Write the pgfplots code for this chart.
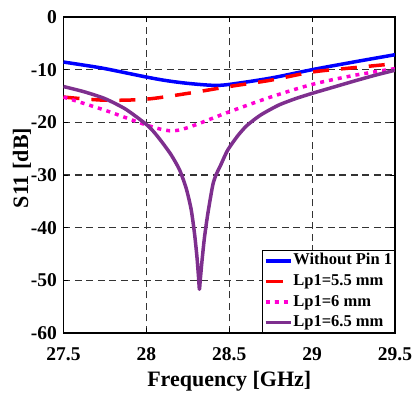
\documentclass[border=0pt]{standalone}
\usepackage{fontspec}
\setmainfont{Liberation Serif}
\usepackage{pgfplots}
\pgfplotsset{compat=1.18}
\definecolor{cblue}{RGB}{0,0,255}
\definecolor{cred}{RGB}{255,0,0}
\definecolor{cpink}{RGB}{255,0,210}
\definecolor{cpurple}{RGB}{126,47,142}
\begin{document}
\begin{tikzpicture}
\useasboundingbox (-63.5pt,-61pt) rectangle (352.5pt,333pt);
\begin{axis}[
  at={(0,0)}, anchor=south west,
  scale only axis, width=331.5pt, height=316pt,
  xmin=27.5, xmax=29.5, ymin=-60, ymax=0,
  xtick={27.5,28,28.5,29,29.5}, ytick={-60,-50,-40,-30,-20,-10,0},
  grid=major,
  major grid style={black!80, line width=1.1pt, dash pattern=on 7pt off 4.5pt},
  axis line style={line width=1.2pt},
  tick align=inside, major tick length=5pt,
  tick style={black, line width=1pt},
  /pgf/number format/assume math mode=true,
  ticklabel style={font=\fontsize{19.5}{21}\selectfont\bfseries},
  xticklabel style={anchor=base, yshift=-27.7pt},
  yticklabel style={anchor=east, inner sep=0pt, xshift=-6.5pt},
  xlabel={Frequency [GHz]}, ylabel={S11 [dB]},
  label style={font=\fontsize{22}{24}\selectfont\bfseries},
  xlabel style={at={(axis description cs:0.5,0)}, anchor=base, yshift=-53.7pt},
  ylabel style={at={([xshift=-41.5pt,yshift=7pt]axis description cs:0,0.5)}, anchor=center},
  legend style={at={(rel axis cs:1,0)}, anchor=south east,
    font=\fontsize{16.5}{18}\selectfont\bfseries,
    draw=black, line width=0.8pt, inner sep=1.5pt, row sep=3.6pt,
    nodes={inner sep=1pt, text height=11.5pt, text depth=3.5pt}},
  legend cell align=left,
  legend image code/.code={\draw[#1] plot coordinates {(0pt,0pt) (12.5pt,0pt) (25pt,0pt)};},
]
\addplot[cblue, line width=3.5pt, smooth] coordinates {
(27.5,-8.55) (27.625,-9.15) (27.75,-9.8) (28,-11.4) (28.125,-12.1) (28.25,-12.6)
(28.4,-12.97) (28.5,-12.8) (28.75,-11.6) (29,-10.0) (29.25,-8.55) (29.5,-7.16)};
\addlegendentry{Without Pin 1}
\addplot[cred, line width=3.5pt, smooth, dash pattern=on 16pt off 12pt] coordinates {
(27.5,-15.2) (27.75,-15.8) (28,-15.6) (28.25,-14.5) (28.5,-13.2) (28.75,-12.0)
(29,-10.45) (29.25,-9.63) (29.5,-8.87)};
\addlegendentry{Lp1=5.5 mm}
\addplot[cpink, line width=3.5pt, smooth, dash pattern=on 4pt off 5pt] coordinates {
(27.5,-15.2) (27.75,-17.7) (28,-20.5) (28.14,-21.6) (28.25,-21.0) (28.5,-18.0)
(28.75,-15.2) (29,-12.8) (29.25,-11.1) (29.5,-9.8)};
\addlegendentry{Lp1=6 mm}
\addplot[cpurple, line width=3.5pt, line join=round, smooth, tension=0.4] coordinates {
(27.5,-13.2) (27.625,-14.2) (27.75,-15.5) (27.875,-17.5) (28,-20.4) (28.05,-22)
(28.1,-24) (28.15,-26.2) (28.2,-29) (28.24,-32.5) (28.27,-36.5) (28.29,-41)
(28.305,-45.5) (28.315,-49.5) (28.32,-51.7) (28.325,-50) (28.335,-46.5)
(28.35,-42) (28.37,-37.5) (28.4,-32) (28.42,-30) (28.45,-28) (28.49,-25.3)
(28.55,-22.6) (28.6,-20.8) (28.65,-19.5) (28.7,-18.4) (28.8,-16.7) (28.9,-15.5)
(29,-14.5) (29.125,-13.35) (29.25,-12.2) (29.375,-11.1) (29.5,-10.1)};
\addlegendentry{Lp1=6.5 mm}
\end{axis}
\end{tikzpicture}
\end{document}
